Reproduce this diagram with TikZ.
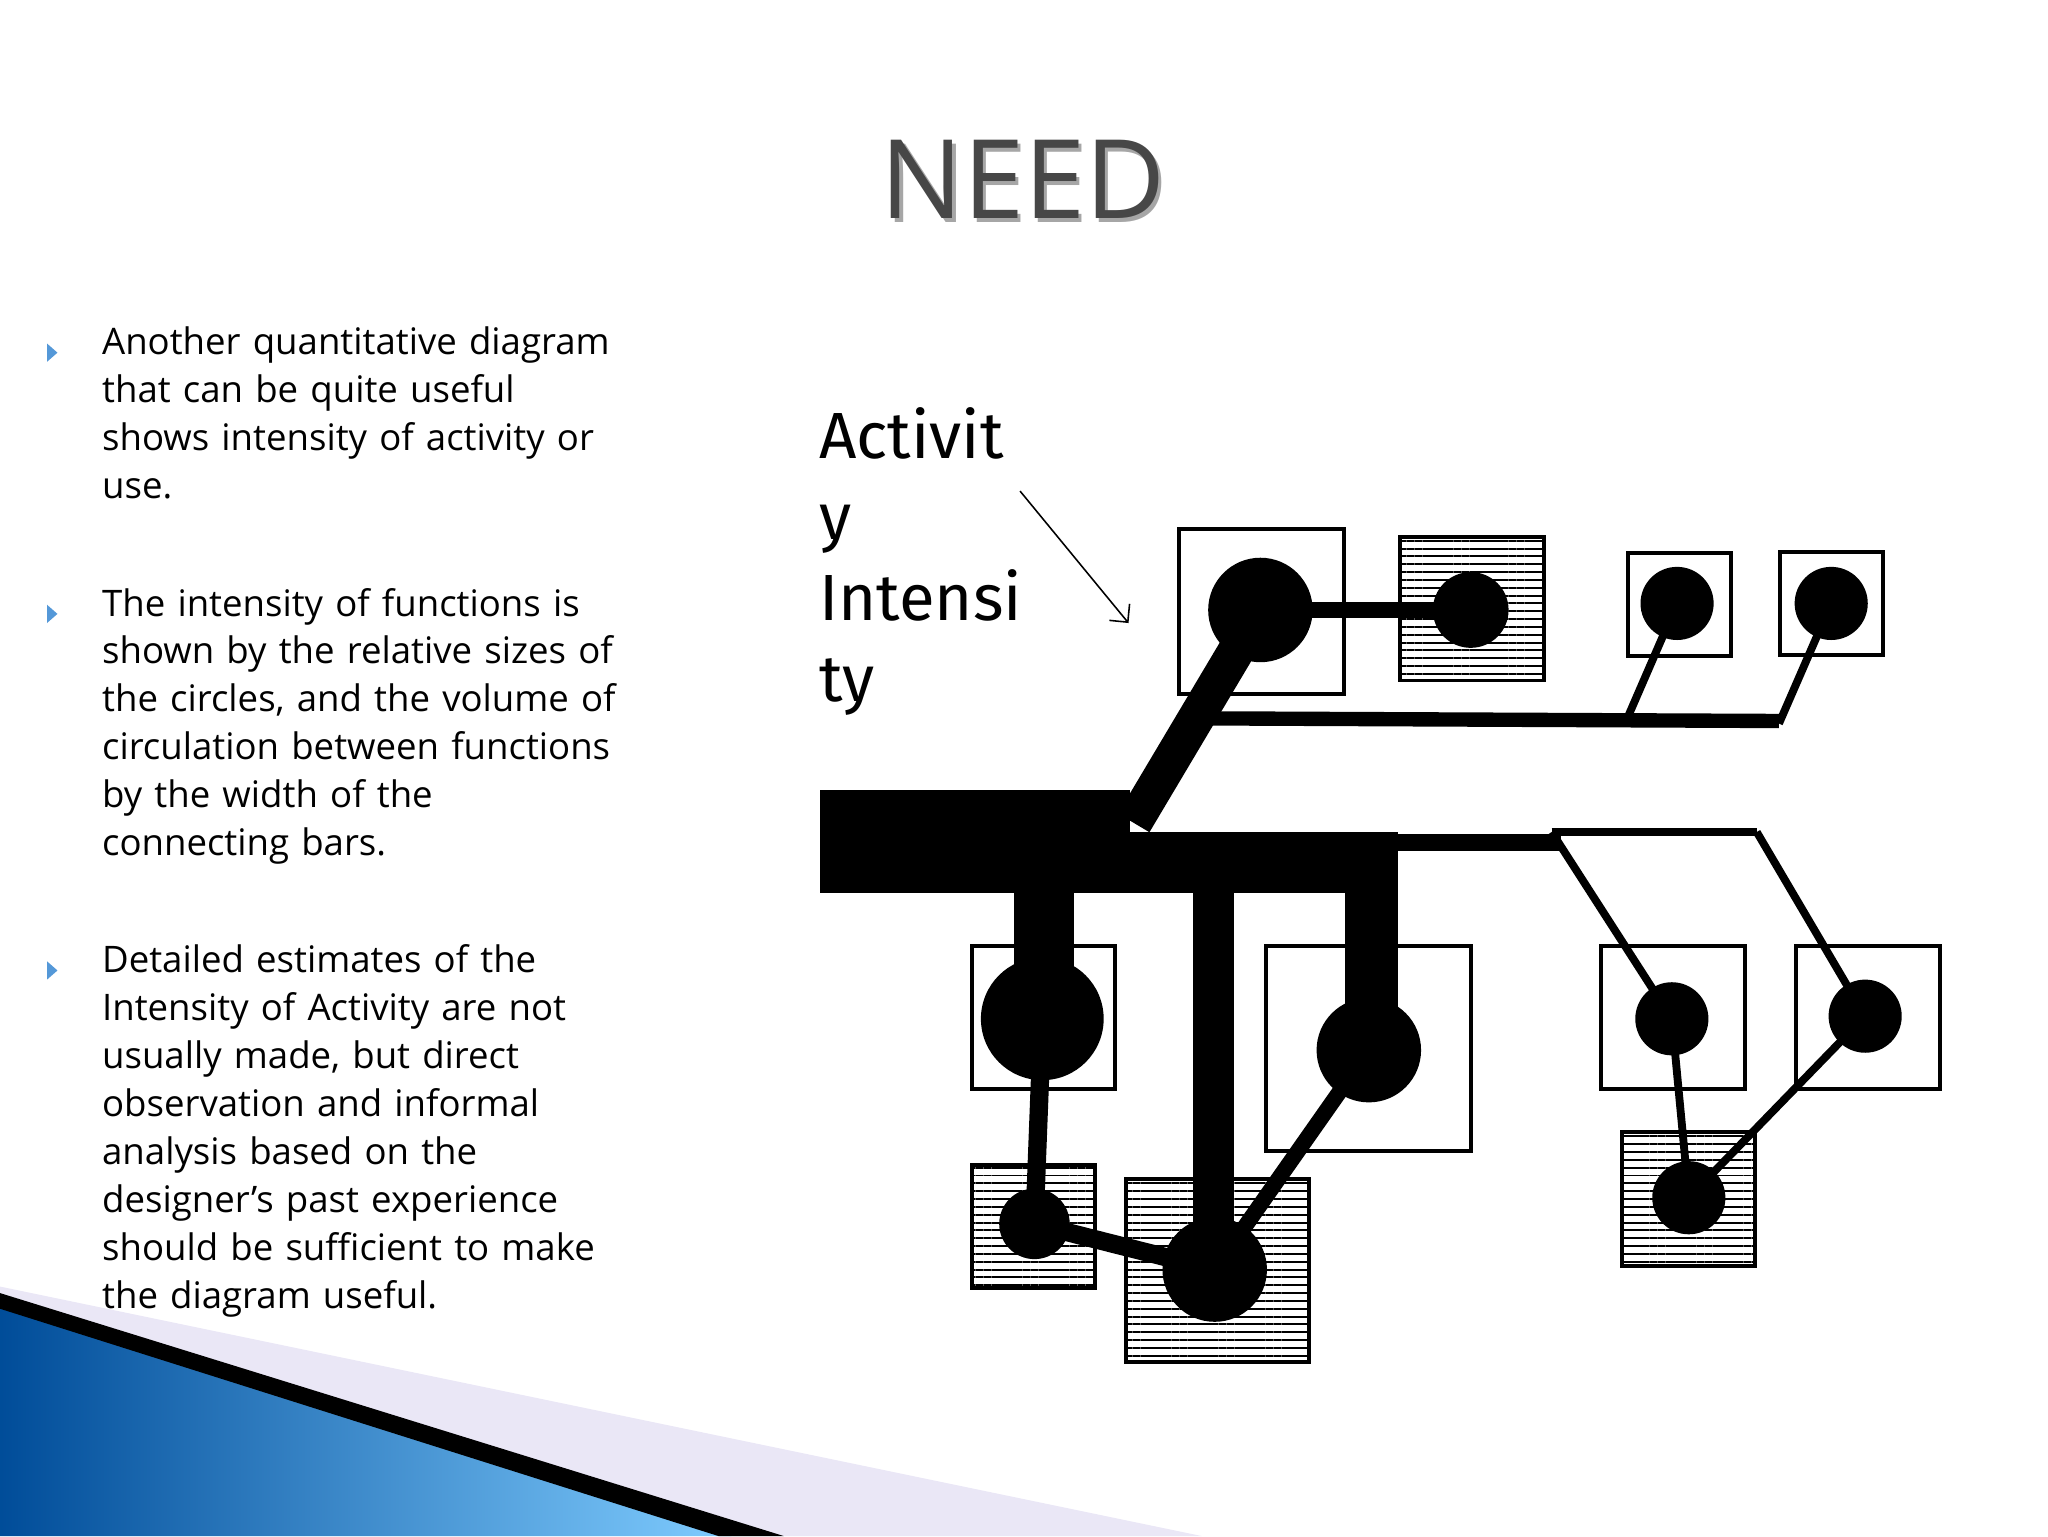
\documentclass[tikz,border=0pt]{standalone}
\usepackage{fontspec}
\setmainfont{Open Sans}
\newfontfamily\handfont{Fira Sans}
\usetikzlibrary{patterns.meta,shadings,arrows.meta}
\begin{document}
\begin{tikzpicture}[x=1pt,y=-1pt,
  bx/.style={draw,line width=3pt,minimum width=#1,minimum height=#1,inner sep=0pt},
  hb/.style={bx=#1,fill=white,postaction={pattern={Lines[angle=0,distance=6pt,line width=1.5pt]}}},
  dot/.style={circle,fill=black,minimum size=#1,inner sep=0pt},
  bul/.style={anchor=north west,align=left,text width=470pt,font=\fontsize{28}{36.7}\selectfont,inner sep=0pt},
  tri/.style={fill=cyan!60!blue!70}]
\useasboundingbox (0,0) rectangle (1568,1176);
% bottom decoration
\fill[cyan!12!blue!8] (0,985) -- (920,1176) -- (0,1176) -- cycle;
\shade[left color=cyan!50!blue!60!black, right color=cyan!60!blue!50] (0,1000) -- (560,1176) -- (0,1176) -- cycle;
\fill[black] (0,990) -- (600,1176) -- (550,1176) -- (0,1002) -- cycle;
% title
\node[text=black!35,font=\fontsize{84}{84}\selectfont] at (786,140) {NEED};
\node[text=black!72,font=\fontsize{84}{84}\selectfont] (title) at (783,137) {NEED};
% bullets
\foreach \y in {270,470,743} \fill[tri] (36,\y-7) -- (44,\y) -- (36,\y+7) -- cycle;
\node[bul] (b1) at (78,250) {Another quantitative diagram\\that can be quite useful\\shows intensity of activity or\\use.};
\node[bul] (b2) at (78,450) {The intensity of functions is\\shown by the relative sizes of\\the circles, and the volume of\\circulation between functions\\by the width of the\\connecting bars.};
\node[bul] (b3) at (78,723) {Detailed estimates of the\\Intensity of Activity are not\\usually made, but direct\\observation and informal\\analysis based on the\\designer’s past experience\\should be sufficient to make\\the diagram useful.};
% label
\node[anchor=north west,align=left,inner sep=0pt,font=\handfont\fontsize{50}{62}\selectfont] (lab) at (627,312) {Activit\\y\\Intensi\\ty};
\coordinate (as) at (781,376); \coordinate (ae) at (864,477);
\draw[-{Straight Barb[length=10pt]},line width=1.2pt] (as) -- (ae);
% boxes
\node[bx=126pt] (B1) at (966,468) {};
\node[hb=110pt] (B2) at (1127,466) {};
\node[bx=79pt] (B3) at (1286,463) {};
\node[bx=79pt] (B4) at (1402,462) {};
\node[bx=110pt] (B5) at (799,779) {};
\node[hb=94pt] (B6) at (791,939) {};
\node[hb=140pt] (B7) at (932,973) {};
\node[bx=157pt] (B8) at (1048,803) {};
\node[bx=110pt] (B9) at (1281,779) {};
\node[bx=110pt] (B10) at (1430,779) {};
\node[hb=102pt] (B11) at (1293,918) {};
% bars
\fill (628,605) rectangle (865,684);
\fill (865,637) rectangle (1070,684);
\coordinate (h1) at (1070,645); \coordinate (h2) at (1195,645);
\draw[line width=13pt] (h1) -- (h2);
\coordinate (t1) at (1188,637); \coordinate (t2) at (1345,637);
\draw[line width=6pt] (t1) -- (t2);
\coordinate (d0) at (868,630);
\node[dot=80pt] (c1) at (965,467) {};
\draw[line width=28pt] (d0) -- (c1.center);
\coordinate (u1) at (926,550); \coordinate (u2) at (1362,552);
\draw[line width=11pt] (u1) -- (u2);
\node[dot=58pt] (c2) at (1126,467) {};
\draw[line width=12pt] (c1.center) -- (c2.center);
\node[dot=56pt] (c3) at (1284,462) {};
\node[dot=56pt] (c4) at (1402,462) {};
\coordinate (k1) at (1245,552); \coordinate (k2) at (1362,554);
\draw[line width=6pt] (k1) -- (c3.center);
\draw[line width=6pt] (k2) -- (c4.center);
% bottom left
\node[dot=94pt] (c5) at (798,780) {};
\fill (776,684) rectangle (822,780);
\node[dot=54pt] (c6) at (792,937) {};
\node[dot=80pt] (c7) at (930,972) {};
\fill (913,684) rectangle (945,972);
\node[dot=80pt] (c8) at (1048,804) {};
\fill (1030,652) rectangle (1070,804);
\draw[line width=14pt] (c5.center) -- (c6.center);
\draw[line width=14pt] (c6.center) -- (c7.center);
\draw[line width=12pt] (c8.center) -- (c7.center);
% right
\node[dot=56pt] (c9) at (1280,780) {};
\node[dot=56pt] (c10) at (1428,778) {};
\node[dot=56pt] (c11) at (1293,917) {};
\draw[line width=6pt] (t1) -- (c9.center);
\draw[line width=6pt] (t2) -- (c10.center);
\draw[line width=6pt] (c9.center) -- (c11.center);
\draw[line width=6pt] (c10.center) -- (c11.center);
\end{tikzpicture}
\end{document}
